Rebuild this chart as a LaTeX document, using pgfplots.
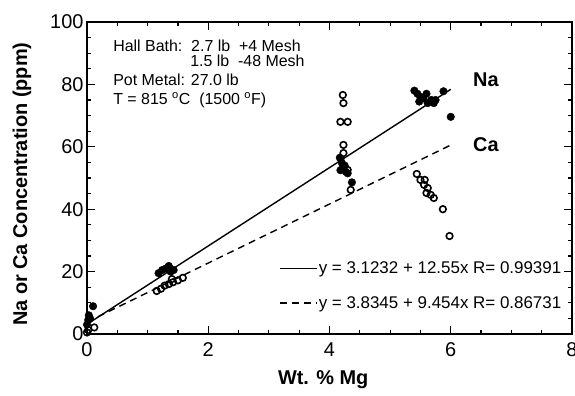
\documentclass[border=0pt]{standalone}
\usepackage{pgfplots}
\pgfplotsset{compat=1.18}
\usepackage{fontspec}
\setmainfont{Liberation Sans}

% Na (filled) and Ca (open) concentrations against Mg content
\pgfplotstableread{
x y
0.00 3.0
0.02 4.5
0.03 6.0
0.05 5.0
0.10 8.9
1.18 19.5
1.24 20.5
1.30 21.0
1.35 21.8
1.38 20.0
1.43 20.5
4.17 56.5
4.20 55.0
4.22 53.5
4.18 52.5
4.27 52.0
4.30 51.5
4.25 54.0
4.37 48.6
5.40 78.0
5.45 77.0
5.50 76.0
5.48 74.5
5.55 75.5
5.60 77.0
5.62 74.0
5.68 75.0
5.72 74.0
5.75 75.0
5.88 77.8
6.00 69.6
}\natable

\pgfplotstableread{
x y
0.00 0.5
0.02 1.3
0.12 2.1
1.15 13.8
1.22 14.5
1.28 15.5
1.35 16.0
1.42 16.6
1.50 17.2
1.58 18.0
1.40 17.6
4.22 76.6
4.23 74.0
4.18 68.0
4.30 68.0
4.23 60.6
4.23 58.0
4.30 52.6
4.35 46.2
5.44 51.3
5.50 49.4
5.57 49.4
5.56 47.8
5.62 46.8
5.60 45.2
5.67 44.6
5.72 43.6
5.87 40.0
5.98 31.4
}\catable

\begin{document}
\begin{tikzpicture}
\useasboundingbox (0,0) rectangle (575bp,396bp);
\begin{axis}[
  at={(87bp,62bp)}, anchor=south west,
  width=485bp, height=312bp, scale only axis,
  xmin=0, xmax=8, ymin=0, ymax=100,
  xtick={0,2,4,6,8}, ytick={0,20,40,60,80,100},
  minor x tick num=3, minor y tick num=3,
  tick align=inside,
  major tick length=8bp, minor tick length=4bp,
  axis line style={line width=1.5bp},
  every tick/.style={line width=1.2bp, black},
  tick label style={font=\fontsize{20}{24}\selectfont},
  /pgf/number format/assume math mode=true,
  xticklabel style={yshift=-5bp},
  xlabel={\bfseries Wt. \% Mg},
  ylabel={\bfseries Na or Ca Concentration (ppm)},
  label style={font=\fontsize{20}{24}\selectfont},
  xlabel style={at={(axis description cs:0.487,-0.163)}, anchor=base},
  ylabel style={at={(axis description cs:-0.134,0.48)}, anchor=center, rotate=0},
  legend image code/.code={\draw[#1] (0bp,0bp) -- (37bp,0bp);},
  legend style={at={(axis cs:3.17,23.5)}, anchor=north west, draw=none, fill=none,
    inner sep=0pt, row sep=19bp, font=\fontsize{17}{20}\selectfont,
    nodes={inner sep=1bp}},
  legend cell align=left,
  clip=false,
]
\addplot[only marks, mark=*, mark size=3.8bp, black, forget plot] table {\natable};
\addplot[only marks, mark=o, mark size=3.3bp, black, mark options={line width=1.6bp, fill=white}, forget plot] table {\catable};
% linear fits
\addplot[black, line width=1.4bp] coordinates {(0,3.1232) (6,78.4232)};
\addlegendentry{y = 3.1232 + 12.55x R= 0.99391}
\addplot[black, line width=1.4bp, dash pattern=on 7bp off 5bp] coordinates {(0,3.8345) (6,60.5585)};
\addlegendentry{y = 3.8345 + 9.454x R= 0.86731}

\node[font=\bfseries\fontsize{20}{24}\selectfont] at (axis cs:6.58,81.4) {Na};
\node[font=\bfseries\fontsize{20}{24}\selectfont] at (axis cs:6.58,60.6) {Ca};

\begin{scope}[every node/.style={anchor=base west, inner sep=0pt, font=\fontsize{16}{19}\selectfont}]
\node at (axis cs:0.43,90.4) {Hall Bath:\ \ 2.7 lb\ \ +4 Mesh};
\node at (axis cs:1.70,85.6) {1.5 lb\ \ -48 Mesh};
\node at (axis cs:0.43,79.8) {Pot Metal: 27.0 lb};
\node at (axis cs:0.43,73.4) {T = 815 \textsuperscript{o}C\ \ (1500 \textsuperscript{o}F)};
\end{scope}
\end{axis}
\end{tikzpicture}
\end{document}
